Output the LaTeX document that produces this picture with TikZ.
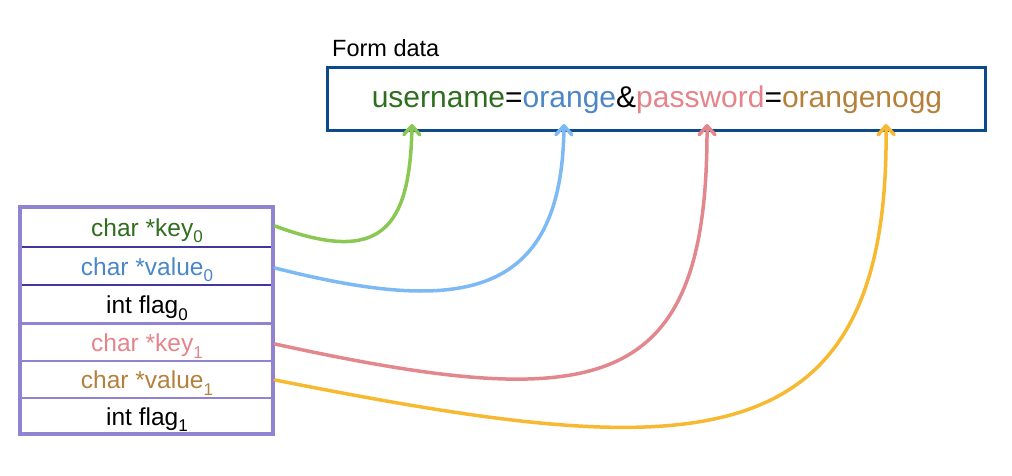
\documentclass[tikz,border=0pt]{standalone}
\usepackage{fontspec}
\setmainfont{Liberation Sans}
\usetikzlibrary{arrows.meta}
\definecolor{formblue}{HTML}{0D4A8A}
\definecolor{boxpurple}{HTML}{9283D2}
\definecolor{darkline}{HTML}{43379E}
\definecolor{tgreen}{HTML}{2F6E1F}
\definecolor{tblue}{HTML}{4A86C8}
\definecolor{tpink}{HTML}{E5848A}
\definecolor{tbrown}{HTML}{B5803A}
\definecolor{agreen}{HTML}{8BC753}
\definecolor{ablue}{HTML}{7DB9F5}
\definecolor{apink}{HTML}{E2878C}
\definecolor{ayellow}{HTML}{F7B932}
\newcommand{\sbs}[1]{\raisebox{-0.28em}{\fontsize{17}{17}\selectfont #1}}
\tikzset{
  rowtext/.style={anchor=base, inner sep=0pt, font=\fontsize{24.5}{26}\selectfont},
  link/.style={line width=3.5pt, line cap=round, -{Straight Barb[length=9pt,width=16pt,line cap=round,line join=round]}},
}
\begin{document}
\begin{tikzpicture}[x=1pt,y=-1pt]
\useasboundingbox (0,0) rectangle (1012,475);
% form box
\node[anchor=base west, inner sep=0pt, font=\fontsize{23.5}{25}\selectfont] (flabel) at (332,56) {Form data};
\node[draw=formblue, line width=3pt, minimum width=658pt, minimum height=63pt, inner sep=0pt] (form) at (656.5,99) {};
\node[anchor=base, inner sep=0pt, font=\fontsize{30}{32}\selectfont] (ftext) at (657,107.5)
  {\textcolor{tgreen}{username}=\textcolor{tblue}{orange}\&\textcolor{tpink}{password}=\textcolor{tbrown}{orangenogg}};
% tips
\coordinate (t1) at (412,124);
\coordinate (t2) at (564,124);
\coordinate (t3) at (707,124);
\coordinate (t4) at (886,124);
% struct box rows
\node[rowtext, text=tgreen] (k0) at (147,236) {char *key\sbs{0}};
\node[rowtext, text=tblue] (v0) at (147,275) {char *value\sbs{0}};
\node[rowtext] (f0) at (147,313.5) {int flag\sbs{0}};
\node[rowtext, text=tpink] (k1) at (147,351.5) {char *key\sbs{1}};
\node[rowtext, text=tbrown] (v1) at (147,388.5) {char *value\sbs{1}};
\node[rowtext] (f1) at (147,425) {int flag\sbs{1}};
\coordinate (s1) at (275,226);
\coordinate (s2) at (275,268);
\coordinate (s3) at (275,344);
\coordinate (s4) at (275,380);
% row separators
\draw[darkline, line width=2pt] (20,246.5) -- (273,246.5);
\draw[darkline, line width=2pt] (20,285) -- (273,285);
\draw[boxpurple, line width=3pt] (20,323.5) -- (273,323.5);
\draw[boxpurple, line width=1.5pt] (20,361) -- (273,361);
\draw[boxpurple, line width=1.5pt] (20,398) -- (273,398);
\draw[boxpurple, line width=4pt] (20,207) rectangle (273,434);
% links
\draw[link, agreen] (s1) .. controls (380,265) and (410,230) .. (t1);
\draw[link, ablue] (s2) .. controls (460,315) and (562,300) .. (t2);
\draw[link, apink] (s3) .. controls (600,415) and (708,395) .. (t3);
\draw[link, ayellow] (s4) .. controls (680,460) and (890,475) .. (t4);
\end{tikzpicture}
\end{document}
